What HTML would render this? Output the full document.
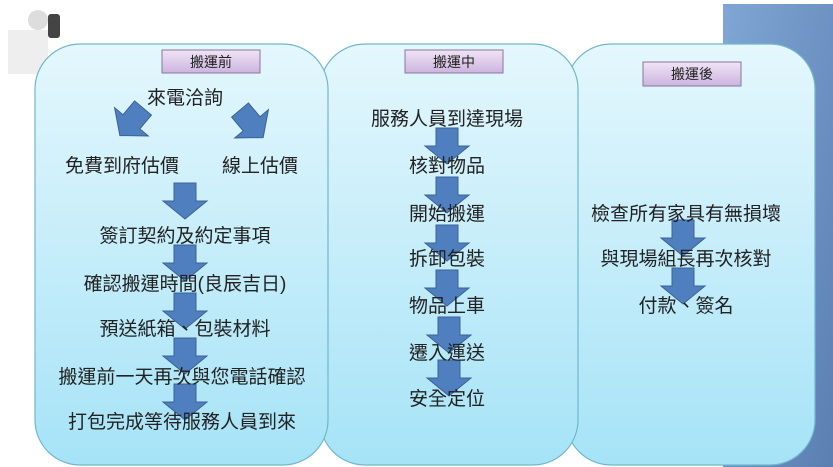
<!DOCTYPE html>
<html><head><meta charset="utf-8"><style>
html,body{margin:0;padding:0;background:#fff;}
svg{display:block;}
text{font-family:"Liberation Sans","Noto Sans CJK TC",sans-serif;fill:#222;}
</style></head><body>
<svg width="833" height="467" viewBox="0 0 833 467" xmlns="http://www.w3.org/2000/svg">
<defs>
<linearGradient id="pg" x1="0" y1="0" x2="0" y2="1">
<stop offset="0" stop-color="#e4f7fd"/><stop offset="1" stop-color="#a6e3f7"/></linearGradient>
<linearGradient id="bg" x1="0" y1="0" x2="1" y2="1">
<stop offset="0" stop-color="#7fa6d4"/><stop offset="1" stop-color="#5c7fb2"/></linearGradient>
<linearGradient id="tg" x1="0" y1="0" x2="0" y2="1">
<stop offset="0" stop-color="#f0e4f6"/><stop offset="1" stop-color="#cdb4de"/></linearGradient>
<path id="ar" d="M-11,0 H11 V18 H22 L0,36 L-22,18 H-11 Z" fill="#4f7fbf" stroke="#3a6398" stroke-width="1"/>
</defs>
<rect x="723" y="4" width="110" height="463" fill="url(#bg)"/>
<!-- figure -->
<rect x="8" y="30" width="40" height="44" fill="#eee"/>
<circle cx="38" cy="20" r="10" fill="#ddd"/>
<rect x="48" y="14" width="12" height="24" rx="3" fill="#444"/>
<!-- panels -->
<rect x="566" y="44" width="249" height="421" rx="45" fill="url(#pg)" stroke="#6fb7cf" stroke-width="1.2"/>
<rect x="320" y="44" width="258" height="421" rx="45" fill="url(#pg)" stroke="#6fb7cf" stroke-width="1.2"/>
<rect x="35" y="44" width="293" height="421" rx="45" fill="url(#pg)" stroke="#6fb7cf" stroke-width="1.2"/>
<!-- tags -->
<rect x="162" y="50" width="98" height="23" fill="url(#tg)" stroke="#8a75a0"/>
<text x="211" y="67" font-size="14" text-anchor="middle">搬運前</text>
<rect x="405" y="50" width="98" height="23" fill="url(#tg)" stroke="#8a75a0"/>
<text x="454" y="67" font-size="14" text-anchor="middle">搬運中</text>
<rect x="643" y="62" width="98" height="24" fill="url(#tg)" stroke="#8a75a0"/>
<text x="692" y="79" font-size="14" text-anchor="middle">搬運後</text>
<!-- left arrows -->
<use href="#ar" transform="translate(143,108) rotate(40)"/>
<use href="#ar" transform="translate(240,110) rotate(-40)"/>
<use href="#ar" x="185" y="183"/>
<use href="#ar" x="185" y="245"/>
<use href="#ar" x="185" y="293"/>
<use href="#ar" x="185" y="338"/>
<use href="#ar" x="185" y="384"/>
<!-- middle arrows -->
<use href="#ar" x="447" y="128"/>
<use href="#ar" x="447" y="177"/>
<use href="#ar" x="447" y="225"/>
<use href="#ar" x="447" y="270"/>
<use href="#ar" x="449" y="317"/>
<use href="#ar" x="449" y="360"/>
<!-- right arrows -->
<use href="#ar" x="683" y="220"/>
<use href="#ar" x="683" y="268"/>
<!-- left text -->
<g font-size="19" text-anchor="middle">
<text x="185" y="104">來電洽詢</text>
<text x="122" y="172">免費到府估價</text>
<text x="260" y="172">線上估價</text>
<text x="185" y="242">簽訂契約及約定事項</text>
<text x="185" y="290">確認搬運時間(良辰吉日)</text>
<text x="185" y="335">預送紙箱、包裝材料</text>
<text x="182" y="383">搬運前一天再次與您電話確認</text>
<text x="182" y="428">打包完成等待服務人員到來</text>
<text x="447" y="125">服務人員到達現場</text>
<text x="447" y="172">核對物品</text>
<text x="447" y="220">開始搬運</text>
<text x="447" y="265">拆卸包裝</text>
<text x="447" y="312">物品上車</text>
<text x="447" y="359">遷入運送</text>
<text x="447" y="405">安全定位</text>
<text x="686" y="220">檢查所有家具有無損壞</text>
<text x="686" y="265">與現場組長再次核對</text>
<text x="686" y="312">付款、簽名</text>
</g>
</svg>
</body></html>
